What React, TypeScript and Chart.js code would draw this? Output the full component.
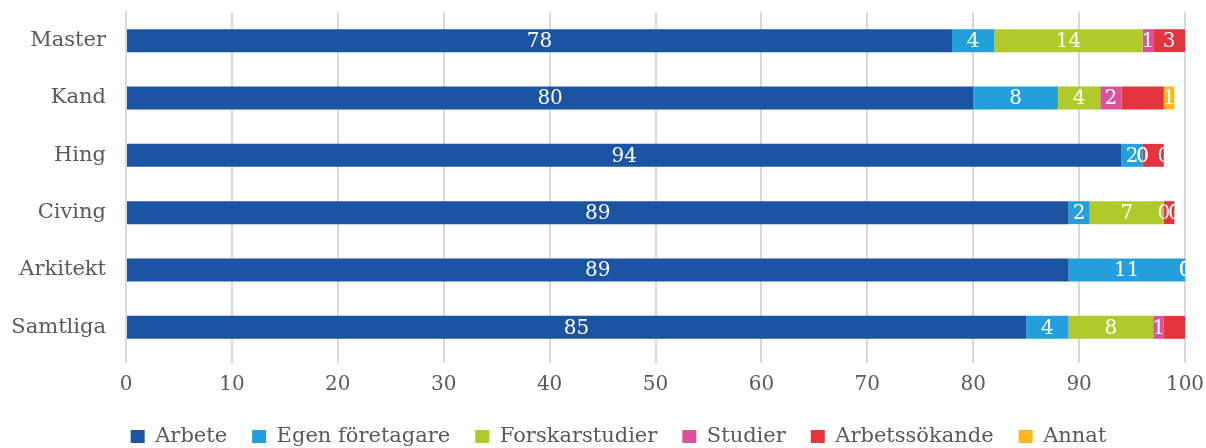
import { useEffect, useRef } from "react";
import { Chart, registerables } from "chart.js";

Chart.register(...registerables);

const categories = ["Master", "Kand", "Hing", "Civing", "Arkitekt", "Samtliga"];
const seriesNames = ["Arbete", "Egen företagare", "Forskarstudier", "Studier", "Arbetssökande", "Annat"];
const arbete = [78, 80, 94, 89, 89, 85];
const egenForetagare = [4, 8, 2, 2, 11, 4];
const forskarstudier = [14, 4, 0, 7, 0, 8];
const studier = [1, 2, 0, 0, 0, 1];
const arbetssokande = [3, 4, 2, 1, 0, 2];
const annat = [0.3, 1, 0, 0, 0, 0.3];
const seriesColors = ["#1c54a4", "#23a0db", "#b1ca2b", "#d9539b", "#e4353f", "#fbb71b"];
const xTicks = [0, 10, 20, 30, 40, 50, 60, 70, 80, 90, 100];
// data labels that the reference does not show: [seriesIndex, categoryIndex]
const hiddenLabels = [[4, 1], [4, 2], [4, 3], [4, 4], [4, 5], [5, 0], [5, 5]];

const FONT = "'DejaVu Serif', 'Liberation Serif', serif";

const valueLabels = {
  id: "valueLabels",
  afterDatasetsDraw(chart: any) {
    const ctx = chart.ctx;
    ctx.save();
    ctx.font = `20px ${FONT}`;
    ctx.fillStyle = "#ffffff";
    ctx.textAlign = "center";
    ctx.textBaseline = "middle";
    chart.data.datasets.forEach((ds: any, si: number) => {
      const meta = chart.getDatasetMeta(si);
      meta.data.forEach((el: any, ci: number) => {
        if (hiddenLabels.some(([s, c]) => s === si && c === ci)) return;
        const { x, y, base } = el.getProps(["x", "y", "base"], true);
        const v = ds.data[ci];
        ctx.fillText(String(Math.round(v)), (x + base) / 2, y + 1);
      });
    });
    ctx.restore();
  },
};

const legendShift = {
  id: "legendShift",
  afterLayout(chart: any) {
    if (chart.legend) {
      chart.legend.left += 26;
      chart.legend.right += 26;
    }
  },
};

export default function App() {
  const ref = useRef<HTMLCanvasElement>(null);
  useEffect(() => {
    document.body.style.margin = "0";
    document.body.style.overflow = "hidden";
    const values = [arbete, egenForetagare, forskarstudier, studier, arbetssokande, annat];
    const chart = new Chart(ref.current!, {
      type: "bar",
      data: {
        labels: categories,
        datasets: seriesNames.map((name, i) => ({
          label: name,
          data: values[i],
          backgroundColor: seriesColors[i],
          borderWidth: 0,
          barPercentage: 0.4,
          categoryPercentage: 1,
        })),
      },
      options: {
        indexAxis: "y",
        responsive: false,
        animation: false,
        layout: { padding: { top: 12, right: 21, left: 0, bottom: 0 } },
        plugins: {
          tooltip: { enabled: false },
          legend: {
            position: "bottom",
            labels: {
              boxWidth: 14,
              boxHeight: 13,
              padding: 25,
              color: "#595959",
              font: { family: FONT, size: 21 },
            },
          },
        },
        scales: {
          x: {
            stacked: true,
            min: 0,
            max: 100,
            afterBuildTicks: (scale: any) => {
              scale.ticks = xTicks.map((v) => ({ value: v }));
            },
            afterFit: (scale: any) => {
              scale.height = 45;
              scale.paddingLeft = 0;
              scale.paddingRight = 0;
            },
            grid: { color: "#d9d9d9", lineWidth: 2, tickLength: 7 },
            border: { display: false },
            ticks: { color: "#595959", font: { family: FONT, size: 20 }, padding: 10 },
          },
          y: {
            stacked: true,
            afterFit: (scale: any) => {
              scale.width = 126;
              scale.paddingTop = 0;
              scale.paddingBottom = 0;
            },
            grid: { display: true, drawOnChartArea: false, drawTicks: false },
            border: { display: true, color: "#d9d9d9", width: 2 },
            ticks: { color: "#595959", font: { family: FONT, size: 21 }, padding: 20 },
          },
        },
      },
      plugins: [valueLabels, legendShift],
    });
    return () => chart.destroy();
  }, []);
  return (
    <div style={{ width: 1206, height: 448, overflow: "hidden" }}>
      <canvas ref={ref} width={1206} height={457} style={{ display: "block" }} />
    </div>
  );
}
